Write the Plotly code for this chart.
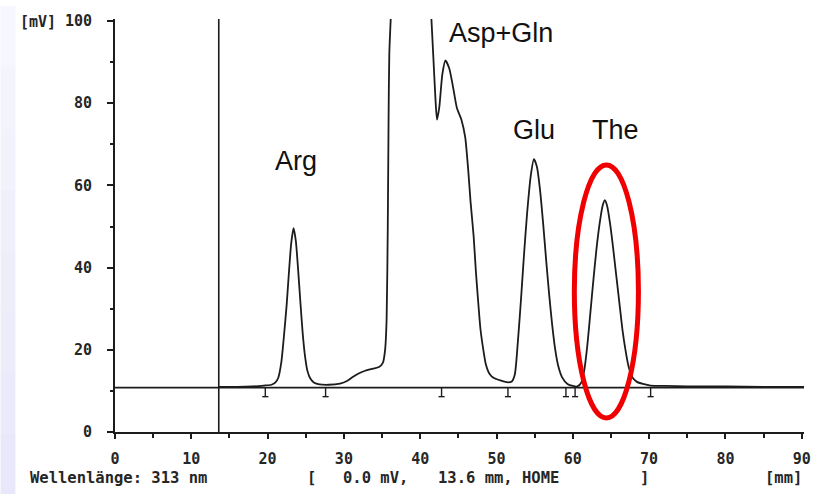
import plotly.graph_objects as go

# ---- data ----
# first visible part: injection -> Arg -> rise of the off-scale peak
time_mm = [13.6, 16.0, 18.0, 19.5, 20.5, 21.0, 21.4, 21.8, 22.1, 22.5, 22.8, 23.1, 23.4, 23.7,
           24.0, 24.3, 24.6, 24.9, 25.2, 25.6, 26.1, 26.8, 28.0, 29.5, 30.4, 31.1, 32.0, 32.8,
           33.8, 34.6, 35.1, 35.4, 35.6, 35.75, 35.85, 35.95, 36.2]
signal_mv = [11.0, 11.0, 11.1, 11.3, 11.5, 12.0, 13.2, 17.0, 22.5, 31.0, 39.0, 46.0, 49.6, 46.5,
             39.5, 31.5, 24.0, 18.5, 15.0, 13.0, 12.0, 11.6, 11.5, 11.8, 12.4, 13.3, 14.3, 14.9,
             15.4, 15.8, 16.8, 20.0, 27.6, 50.0, 75.0, 92.0, 103.0]

# second visible part: Asp+Gln -> Glu -> The -> end
time_mm_2 = [41.4, 41.7, 42.0, 42.2, 42.5, 42.9, 43.3, 43.8, 44.3, 44.8, 45.4, 45.9, 46.3, 46.6,
             47.0, 47.3, 47.6, 47.9, 48.3, 48.6, 49.1, 49.6, 50.6, 51.5, 52.0, 52.4, 52.8, 53.2,
             53.6, 54.0, 54.5, 54.9, 55.3, 55.7, 56.1, 56.5, 56.9, 57.3, 57.7, 58.1, 58.6, 59.3,
             60.0, 60.6, 61.1, 61.5, 61.9, 62.3, 62.7, 63.1, 63.5, 63.9, 64.2, 64.5, 64.9, 65.3,
             65.7, 66.1, 66.5, 66.9, 67.3, 67.8, 68.4, 69.2, 70.2, 72.0, 75.0, 80.0, 85.0, 90.3]
signal_mv_2 = [103.0, 92.0, 81.0, 76.0, 79.0, 87.0, 90.4, 88.5, 84.0, 78.9, 76.0, 71.7, 63.6, 56.0,
               47.7, 39.0, 31.7, 25.0, 19.7, 16.5, 14.1, 13.2, 12.5, 12.1, 12.3, 14.0, 22.0, 32.0,
               43.0, 53.0, 62.5, 66.4, 64.5, 59.0, 51.0, 42.0, 33.5, 26.0, 20.0, 16.0, 13.3, 11.7,
               11.2, 11.1, 12.0, 15.0, 21.0, 29.0, 37.0, 44.5, 50.5, 55.0, 56.4, 55.0, 50.5, 44.5,
               38.0, 31.5, 25.0, 20.0, 16.0, 13.3, 12.2, 11.7, 11.3, 11.2, 11.1, 11.1, 11.0, 11.0]

baseline_mv = 10.8
injection_mm = 13.6
integration_marks_mm = [19.7, 27.6, 42.8, 51.5, 59.1, 60.3, 70.2]

peak_names = ["Arg", "Asp+Gln", "Glu", "The"]
peak_label_x = [23.7, 50.6, 54.9, 65.6]
peak_label_y = [66.0, 97.0, 73.5, 73.5]

x_ticks = [0, 10, 20, 30, 40, 50, 60, 70, 80, 90]
y_ticks = [0, 20, 40, 60, 80, 100]

highlight_x = [60.2, 68.6]
highlight_y = [3.4, 65.0]

# ---- figure ----
INK = "#1c1c1c"
TXT = "#262626"
MONO = "DejaVu Sans Mono, Liberation Mono, monospace"

fig = go.Figure()

# baseline
fig.add_trace(go.Scatter(x=[0, 90.3], y=[baseline_mv, baseline_mv], mode="lines",
                         line=dict(color=INK, width=1.6), hoverinfo="skip", showlegend=False))

# integration marks hanging below baseline
mx, my = [], []
for m in integration_marks_mm:
    mx += [m, m, None, m - 0.4, m + 0.4, None]
    my += [baseline_mv, baseline_mv - 2.2, None, baseline_mv - 2.2, baseline_mv - 2.2, None]
fig.add_trace(go.Scatter(x=mx, y=my, mode="lines", line=dict(color=INK, width=1.4),
                         hoverinfo="skip", showlegend=False))

# injection marker
fig.add_trace(go.Scatter(x=[injection_mm, injection_mm], y=[0, 100.5], mode="lines",
                         line=dict(color=INK, width=1.6), hoverinfo="skip", showlegend=False))

# chromatogram trace (two visible parts, off-scale between)
for xs, ys in ((time_mm, signal_mv), (time_mm_2, signal_mv_2)):
    fig.add_trace(go.Scatter(x=xs, y=ys, mode="lines",
                             line=dict(color=INK, width=1.8, shape="spline", smoothing=0.6),
                             showlegend=False))

# peak labels
for name, lx, ly in zip(peak_names, peak_label_x, peak_label_y):
    fig.add_annotation(x=lx, y=ly, xref="x", yref="y", text=name, showarrow=False,
                       font=dict(family="Liberation Sans, Arial", size=27, color="#111111"))

# red highlight ellipse
fig.add_shape(type="circle", xref="x", yref="y",
              x0=highlight_x[0], x1=highlight_x[1], y0=highlight_y[0], y1=highlight_y[1],
              line=dict(color="#f00000", width=5))

# plot area geometry for paper-positioned decorations
L, R, T, B, W, H = 115, 16, 13, 63, 823, 495
PW, PH = W - L - R, H - T - B


def px(x):
    return (x - L) / PW


def py(y):
    return (H - B - y) / PH


# lavender strip at left edge (light gradient)
bands = 8
for i in range(bands):
    t = i / (bands - 1)
    r = int(246 - 14 * t)
    g = int(246 - 14 * t)
    b = int(254 - 4 * t)
    fig.add_shape(type="rect", xref="paper", yref="paper", layer="below",
                  x0=px(0), x1=px(15), y0=py(i * H / bands), y1=py((i + 1) * H / bands),
                  line=dict(width=0), fillcolor=f"rgb({r},{g},{b})")

# printed texts
fig.add_annotation(xref="paper", yref="paper", x=px(18), y=py(16), xanchor="left", yanchor="middle",
                   text="<b>[mV]</b>", showarrow=False, font=dict(family=MONO, size=15, color=TXT))
bottom_texts = [("Wellenlänge: 313 nm", 28), ("[", 306), ("0.0 mV,", 342),
                ("13.6 mm, HOME", 437), ("]", 640), ("[mm]", 766)]
for txt, xpos in bottom_texts:
    fig.add_annotation(xref="paper", yref="paper", x=px(xpos), y=py(479), xanchor="left",
                       yanchor="middle", text=f"<b>{txt}</b>", showarrow=False,
                       font=dict(family=MONO, size=15.5, color=TXT))

fig.update_layout(
    width=W, height=H, autosize=False,
    margin=dict(l=L, r=R, t=T, b=B, pad=0),
    paper_bgcolor="white", plot_bgcolor="white",
    showlegend=False,
    xaxis=dict(range=[0, 90.3], tickmode="array", tickvals=x_ticks,
               ticktext=[f"<b>{v}</b>" for v in x_ticks],
               showline=True, linecolor=INK, linewidth=2, mirror=False,
               ticks="outside", ticklen=5, tickwidth=1.5, tickcolor=INK,
               minor=dict(tickmode="array", tickvals=[v + 5 for v in x_ticks[:-1]],
                          ticks="outside", ticklen=4, tickwidth=1.5, tickcolor=INK, showgrid=False),
               showgrid=False, zeroline=False, ticklabelstandoff=7,
               tickfont=dict(family=MONO, size=15, color=TXT)),
    yaxis=dict(range=[0, 100.5], tickmode="array", tickvals=y_ticks,
               ticktext=[f"<b>{v}</b>" for v in y_ticks],
               showline=True, linecolor=INK, linewidth=2,
               ticks="outside", ticklen=6, tickwidth=1.5, tickcolor=INK,
               minor=dict(tickmode="array", tickvals=[v + 10 for v in y_ticks[:-1]],
                          ticks="outside", ticklen=3, tickwidth=1.5, tickcolor=INK, showgrid=False),
               showgrid=False, zeroline=False, ticklabelstandoff=12,
               tickfont=dict(family=MONO, size=15, color=TXT)),
)

fig.write_html("out.html")
